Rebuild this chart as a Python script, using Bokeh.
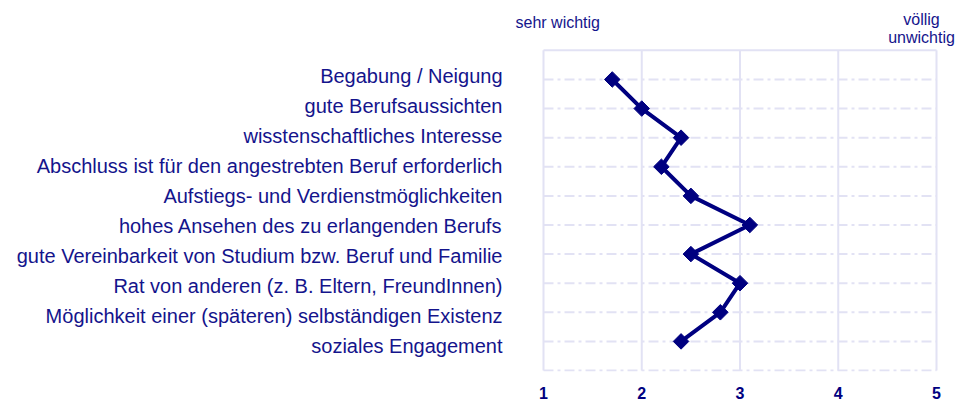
import math
from bokeh.plotting import figure
from bokeh.models import Range1d, FixedTicker, Label
from bokeh.embed import file_html
from bokeh.resources import INLINE

categories = [
    "Begabung / Neigung",
    "gute Berufsaussichten",
    "wisstenschaftliches Interesse",
    "Abschluss ist für den angestrebten Beruf erforderlich",
    "Aufstiegs- und Verdienstmöglichkeiten",
    "hohes Ansehen des zu erlangenden Berufs",
    "gute Vereinbarkeit von Studium bzw. Beruf und Familie",
    "Rat von anderen (z. B. Eltern, FreundInnen)",
    "Möglichkeit einer (späteren) selbständigen Existenz",
    "soziales Engagement",
]
values = [1.7, 2.0, 2.4, 2.2, 2.5, 3.1, 2.5, 3.0, 2.8, 2.4]
x_ticks = [1, 2, 3, 4, 5]
scale_low = "sehr wichtig"
scale_high = ["völlig", "unwichtig"]

n = len(categories)
positions = list(range(1, n + 1))

NAVY = "#000080"
TEXT = "#14148c"
GRID = "#e2e2f4"
FONT = "Liberation Sans"

W, H = 956, 401
# pixel geometry of the value grid (x = 1..5, rows 0..n+1)
GX0, GX1 = 543, 936
GY0, GY1 = 50, 371
PX = (GX1 - GX0) / (x_ticks[-1] - x_ticks[0])
ROW = (GY1 - GY0) / (n + 1)
# plot frame (larger than the grid so the scale notes fit inside it)
FL, FR, FT, FB = 510, W, 0, GY1 + 1

p = figure(width=W, height=H, output_backend="svg", toolbar_location=None,
           x_range=Range1d(x_ticks[0] - (GX0 - FL) / PX, x_ticks[-1] + (FR - GX1) / PX),
           y_range=Range1d(n + 1 + (FB - GY1) / ROW, -(GY0 - FT) / ROW),
           min_border_left=FL, min_border_right=W - FR, min_border_top=FT,
           min_border_bottom=H - FB)
p.background_fill_color = "white"
p.border_fill_color = "white"
p.outline_line_color = None
p.grid.visible = False

# x axis
p.xaxis.ticker = FixedTicker(ticks=x_ticks)
p.xaxis.axis_line_color = None
p.xaxis.major_tick_line_color = None
p.xaxis.minor_tick_line_color = None
p.xaxis.major_label_text_font = FONT
p.xaxis.major_label_text_font_size = "16px"
p.xaxis.major_label_text_font_style = "bold"
p.xaxis.major_label_text_color = NAVY
p.xaxis.major_label_standoff = 9

# y axis: category labels (text rows slightly wider spaced than the grid rows)
LABEL_TOP, LABEL_STEP = 0.884, 1.03
label_pos = [round(LABEL_TOP + LABEL_STEP * i, 3) for i in range(n)]
p.yaxis.ticker = FixedTicker(ticks=label_pos)
p.yaxis.major_label_overrides = {lp: cat for lp, cat in zip(label_pos, categories)}
p.yaxis.axis_line_color = None
p.yaxis.major_tick_line_color = None
p.yaxis.minor_tick_line_color = None
p.yaxis.major_label_text_font = FONT
p.yaxis.major_label_text_font_size = "20px"
p.yaxis.major_label_text_color = TEXT
p.yaxis.major_label_standoff = 2

# grid: solid verticals at the x ticks and a solid top edge
top, bottom = 0, n + 1
p.segment(x0=x_ticks, y0=[top] * len(x_ticks), x1=x_ticks, y1=[bottom] * len(x_ticks),
          line_color=GRID, line_width=2)
p.segment(x0=[x_ticks[0]], y0=[top], x1=[x_ticks[-1]], y1=[top],
          line_color=GRID, line_width=2)
# dash-dot row lines (incl. bottom edge)
rows = positions + [bottom]
p.segment(x0=[x_ticks[0]] * len(rows), y0=rows, x1=[x_ticks[-1]] * len(rows), y1=rows,
          line_color=GRID, line_width=2, line_dash="10 4 3 4")

# data
p.line(values, positions, line_color=NAVY, line_width=4)
p.scatter(values, positions, marker="square", size=11, angle=math.pi / 4,
          fill_color=NAVY, line_color=NAVY)

# scale end notes
def py(page_y):
    return (page_y - GY0) / ROW

def px(page_x):
    return x_ticks[0] + (page_x - GX0) / PX

p.add_layout(Label(x=px(515), y=py(22.5), text=scale_low, text_font=FONT,
                   text_font_size="16px", text_color=TEXT, text_align="left",
                   text_baseline="middle"))
p.add_layout(Label(x=px(921), y=py(19.5), text=scale_high[0], text_font=FONT,
                   text_font_size="16px", text_color=TEXT, text_align="center",
                   text_baseline="middle"))
p.add_layout(Label(x=px(921), y=py(37.5), text=scale_high[1], text_font=FONT,
                   text_font_size="16px", text_color=TEXT, text_align="center",
                   text_baseline="middle"))

open("out.html", "w").write(file_html(p, INLINE))
